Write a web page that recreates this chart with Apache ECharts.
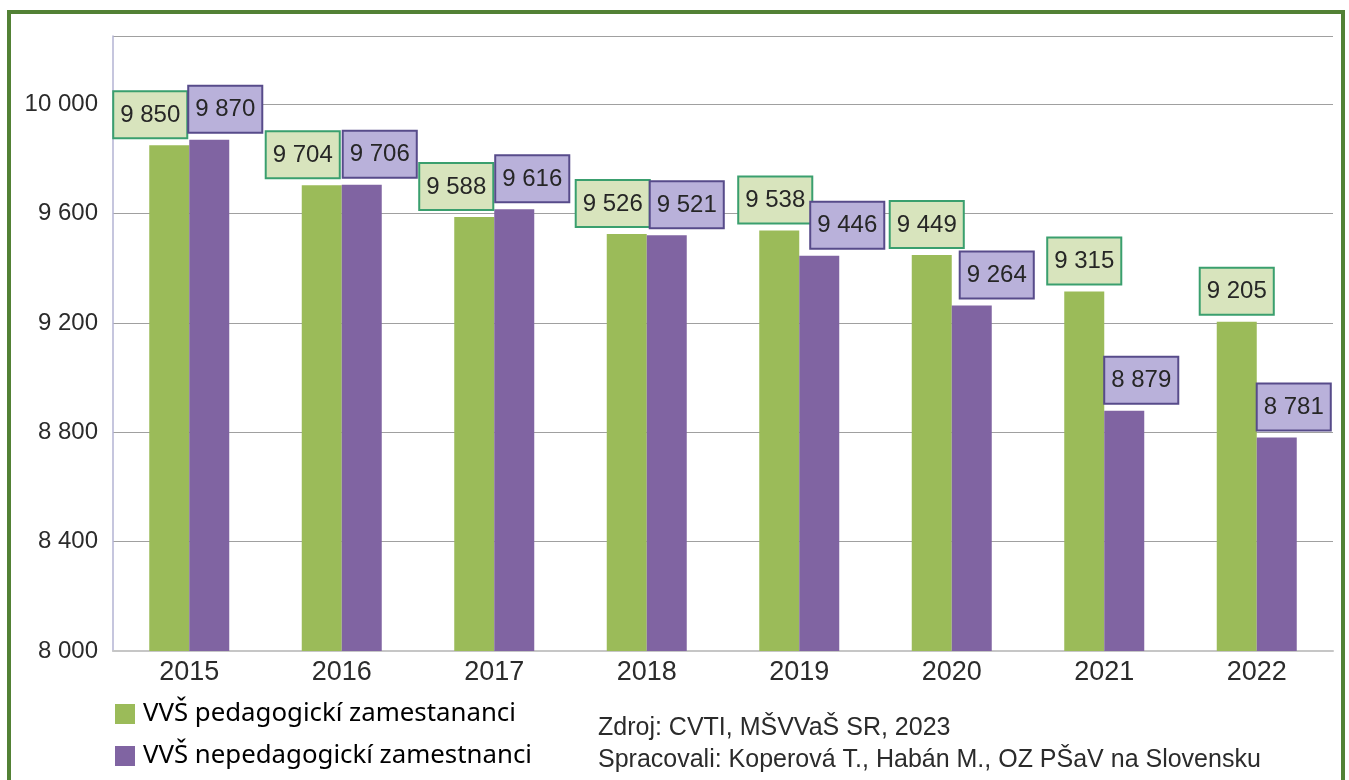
<!DOCTYPE html>
<html>
<head>
<meta charset="utf-8">
<script src="https://cdn.jsdelivr.net/npm/echarts@6/dist/echarts.min.js"></script>
<style>
  html, body { margin: 0; padding: 0; background: #fff; }
  #chart { width: 1349px; height: 780px; }
</style>
</head>
<body>
<div id="chart"></div>
<script>
const years = ["2015", "2016", "2017", "2018", "2019", "2020", "2021", "2022"];
const pedagogicki = [9850, 9704, 9588, 9526, 9538, 9449, 9315, 9205];
const nepedagogicki = [9870, 9706, 9616, 9521, 9446, 9264, 8879, 8781];
const yTicks = [8000, 8400, 8800, 9200, 9600, 10000];

// posun popisov, aby sa boxy neprekryvali (ako v Exceli)
const shiftPed = [-19, -19, -18, -14, -4, -5, 0, 0];
const shiftNeped = [16, 18, 18, 20, 28, 25, 17, 17];

const fmt = (v) => String(v).replace(/\B(?=(\d{3})+(?!\d))/g, " ");

function labelled(values, shifts, bg, border) {
  return values.map((v, i) => ({
    value: v,
    label: {
      show: true,
      position: "top",
      distance: 8,
      offset: [shifts[i], 0],
      formatter: (p) => fmt(p.value),
      fontFamily: "Liberation Sans, Arial, sans-serif",
      fontSize: 24,
      color: "#262626",
      backgroundColor: bg,
      borderColor: border,
      borderWidth: 2,
      padding: [11, 6, 10, 6],
    },
  }));
}

const chart = echarts.init(document.getElementById("chart"));
chart.setOption({
  animation: false,
  grid: { left: 113, right: 16, top: 36, bottom: 129 },
  legend: {
    orient: "vertical",
    left: 115,
    top: 701,
    padding: 0,
    itemWidth: 20,
    itemHeight: 20,
    itemGap: 16,
    icon: "rect",
    textStyle: {
      fontFamily: "Noto Sans, sans-serif",
      fontSize: 25.8,
      color: "#000",
      padding: [0, 0, 0, 3],
    },
  },
  xAxis: {
    type: "category",
    data: years,
    axisLine: { lineStyle: { color: "#c6c6c6", width: 2 } },
    axisTick: { alignWithLabel: true, length: 6, lineStyle: { color: "#b0b0b0" } },
    axisLabel: {
      margin: 8,
      fontFamily: "Liberation Sans, Arial, sans-serif",
      fontSize: 27,
      color: "#2b2b2b",
    },
  },
  yAxis: {
    type: "value",
    min: yTicks[0],
    max: 10250,
    interval: yTicks[1] - yTicks[0],
    axisLine: { show: true, lineStyle: { color: "#b3b3d3", width: 1.5 } },
    axisTick: { show: false },
    axisLabel: {
      margin: 15,
      showMaxLabel: false,
      fontFamily: "Liberation Sans, Arial, sans-serif",
      fontSize: 24,
      color: "#2b2b2b",
      formatter: (v) => (yTicks.includes(v) ? fmt(v) : ""),
    },
    splitLine: { lineStyle: { color: "#a0a0a0", width: 1 } },
  },
  series: [
    {
      name: "VVŠ pedagogickí zamestananci",
      type: "bar",
      barWidth: 40,
      barGap: "0%",
      itemStyle: { color: "#9bbb59" },
      data: labelled(pedagogicki, shiftPed, "#d8e4bd", "#3a9f6e"),
    },
    {
      name: "VVŠ nepedagogickí zamestnanci",
      type: "bar",
      barWidth: 40,
      itemStyle: { color: "#8064a2" },
      data: labelled(nepedagogicki, shiftNeped, "#b9b1da", "#574b8a"),
    },
  ],
  graphic: [
    {
      type: "rect",
      shape: { x: 9, y: 12, width: 1334, height: 800 },
      style: { fill: "none", stroke: "#528135", lineWidth: 4 },
      silent: true,
    },
    {
      type: "text",
      left: 598,
      top: 716,
      style: {
        text: "Zdroj: CVTI, MŠVVaŠ SR, 2023",
        font: "25px Liberation Sans, Arial, sans-serif",
        fill: "#2b2b2b",
      },
    },
    {
      type: "text",
      left: 598,
      top: 748,
      style: {
        text: "Spracovali: Koperová T., Habán M., OZ PŠaV na Slovensku",
        font: "25px Liberation Sans, Arial, sans-serif",
        fill: "#2b2b2b",
      },
    },
  ],
});
window.addEventListener("resize", () => {
  chart.resize();
});
</script>
</body>
</html>
